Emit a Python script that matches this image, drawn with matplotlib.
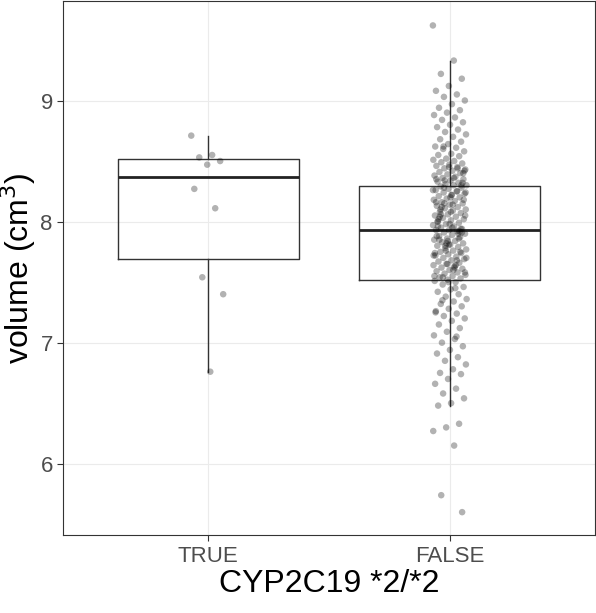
import numpy as np
import matplotlib.pyplot as plt

plt.rcParams['font.family'] = ['Liberation Sans', 'DejaVu Sans']

categories = ["TRUE", "FALSE"]

# box statistics
box_q1 = [7.69, 7.52]
box_med = [8.37, 7.93]
box_q3 = [8.52, 8.29]
box_lo = [6.76, 6.48]
box_hi = [8.71, 9.33]

true_points = [8.71, 8.55, 8.53, 8.50, 8.47, 8.27, 8.11, 7.54, 7.40, 6.76]

false_points = [
    9.62, 9.33, 9.22, 9.18, 9.12, 9.08, 9.05, 9.03, 9.00, 8.97, 8.94, 8.92,
    8.90, 8.88, 8.86, 8.84, 8.82, 8.80, 8.78, 8.76, 8.74, 8.72, 8.70, 8.68,
    8.66, 8.64, 8.62, 8.61, 8.60, 8.58, 8.56, 8.55, 8.54, 8.52, 8.51, 8.50,
    8.49, 8.48, 8.47, 8.46, 8.45, 8.44, 8.43, 8.42, 8.41, 8.40, 8.39, 8.38,
    8.37, 8.36, 8.35, 8.34, 8.33, 8.32, 8.31, 8.30, 8.30, 8.29, 8.28, 8.27,
    8.26, 8.25, 8.24, 8.23, 8.22, 8.21, 8.20, 8.19, 8.18, 8.17, 8.16, 8.15,
    8.14, 8.13, 8.12, 8.11, 8.10, 8.09, 8.08, 8.07, 8.06, 8.05, 8.04, 8.03,
    8.02, 8.01, 8.00, 7.99, 7.98, 7.97, 7.96, 7.95, 7.94, 7.93, 7.93, 7.92,
    7.91, 7.90, 7.89, 7.88, 7.87, 7.86, 7.85, 7.84, 7.83, 7.82, 7.81, 7.80,
    7.79, 7.78, 7.77, 7.76, 7.75, 7.74, 7.73, 7.72, 7.71, 7.70, 7.69, 7.68,
    7.67, 7.66, 7.65, 7.64, 7.63, 7.62, 7.61, 7.60, 7.59, 7.58, 7.57, 7.56,
    7.55, 7.54, 7.53, 7.52, 7.51, 7.50, 7.48, 7.46, 7.44, 7.42, 7.40, 7.38,
    7.36, 7.34, 7.32, 7.30, 7.28, 7.26, 7.24, 7.22, 7.20, 7.18, 7.15, 7.12,
    7.09, 7.06, 7.03, 7.00, 6.97, 6.94, 6.91, 6.88, 6.85, 6.82, 6.78, 6.75,
    6.74, 6.70, 6.66, 6.62, 6.58, 6.54, 6.50, 6.48, 6.33, 6.30, 6.27, 6.15,
    5.74, 5.60,
    8.45, 8.35, 8.25, 8.15, 8.05, 7.95, 7.85, 7.75, 7.65, 7.55, 7.45, 7.35,
    8.40, 8.20, 8.00, 7.90, 7.80, 7.70, 7.60, 8.10, 8.30, 7.50, 7.25, 7.05,
    8.62, 8.42, 8.22, 8.02, 7.92, 7.82, 7.72, 7.62, 8.12, 8.32, 7.98, 7.88,
    8.44, 8.34, 8.24, 8.14, 8.04, 7.94, 7.84, 7.74, 7.64, 7.54, 8.18, 8.08,
    7.96, 7.86, 7.76, 8.26, 8.36, 8.06, 7.91, 7.81, 8.16, 7.68, 8.28, 7.58,
]

fig = plt.figure(figsize=(5.96, 6.13), dpi=100)
ax = fig.add_axes([0.106, 0.127, 0.892, 0.871])

ax.grid(True, color="#ebebeb", linewidth=0.8)
ax.set_axisbelow(True)

stats = []
for i in range(2):
    stats.append({"q1": box_q1[i], "med": box_med[i], "q3": box_q3[i],
                  "whislo": box_lo[i], "whishi": box_hi[i], "fliers": []})
ax.bxp(stats, positions=[1, 2], widths=0.75, showcaps=False,
       boxprops=dict(color="#333333", linewidth=1.0),
       whiskerprops=dict(color="#333333", linewidth=1.0),
       medianprops=dict(color="#222222", linewidth=2.0))

# deterministic jitter offsets (position only)
def jitter(n, width):
    k = np.arange(n)
    return ((k * 0.618034) % 1.0 - 0.5) * 2 * width

for pos, pts in zip([1, 2], [true_points, false_points]):
    pts = np.array(pts)
    ax.scatter(pos + jitter(len(pts), 0.07), pts, s=22, color="black",
               alpha=0.3, edgecolors="none", zorder=3)

ax.set_xlim(0.4, 2.6)
ax.set_ylim(5.41, 9.82)
ax.set_xticks([1, 2])
ax.set_xticklabels(categories)
ax.set_yticks([6, 7, 8, 9])
ax.tick_params(labelsize=16, labelcolor="#4d4d4d", color="#333333", length=4)
for s in ax.spines.values():
    s.set_color("#333333")
ax.set_xlabel("CYP2C19 *2/*2", fontsize=23, labelpad=2)
ax.set_ylabel("volume (cm$^3$)", fontsize=23, labelpad=2)

fig.savefig("out.png", dpi=100)
